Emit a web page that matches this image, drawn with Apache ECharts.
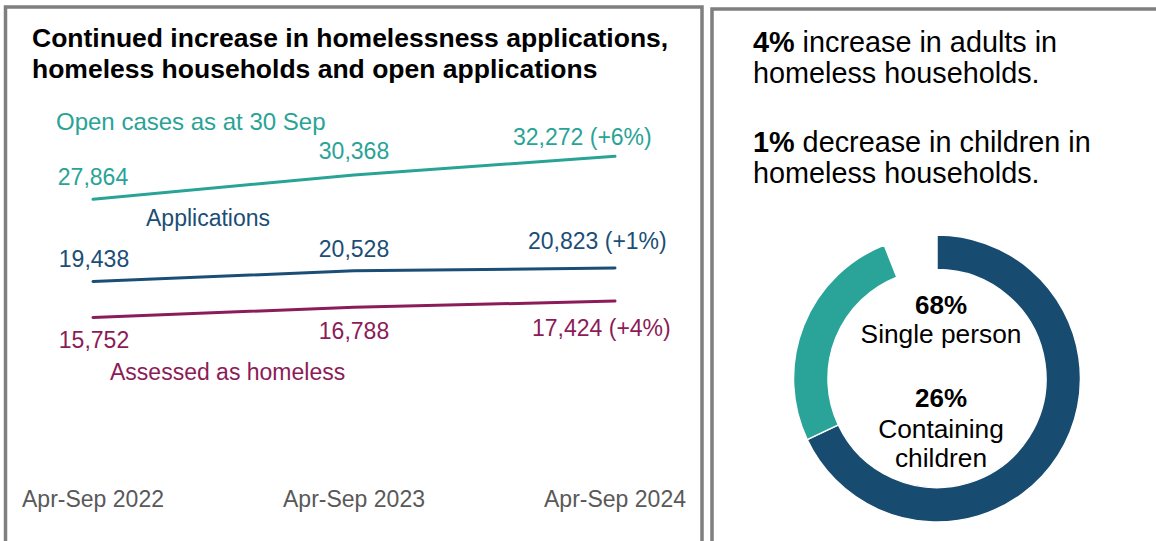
<!DOCTYPE html>
<html>
<head>
<meta charset="utf-8">
<style>
  html, body { margin: 0; padding: 0; background: #ffffff; }
  #chart { width: 1156px; height: 541px; }
</style>
<script src="https://cdn.jsdelivr.net/npm/echarts@6/dist/echarts.min.js"></script>
</head>
<body>
<div id="chart"></div>
<script>
// Reporting periods on the x axis
const periods = ['Apr-Sep 2022', 'Apr-Sep 2023', 'Apr-Sep 2024'];

// Series names and values per period
const seriesNames = ['Open cases as at 30 Sep', 'Applications', 'Assessed as homeless'];
const openCases = [27864, 30368, 32272];
const applications = [19438, 20528, 20823];
const assessedHomeless = [15752, 16788, 17424];
// Year-on-year change shown beside the latest value
const latestChange = ['+6%', '+1%', '+4%'];

// Household composition of homeless households (percent)
const householdTypes = ['Single person', 'Containing children', 'Other'];
const householdShares = [68, 26, 6];

// Headline changes in people within homeless households
const adultsChange = '4%';
const childrenChange = '1%';

const FONT = '"Liberation Sans", Arial, Helvetica, sans-serif';
const TEAL = '#29a396';
const NAVY = '#1b4e76';
const PLUM = '#8c1b59';
const DONUT_NAVY = '#174b70';
const DONUT_TEAL = '#2aa498';

function fmt(n) {
  return String(n).replace(/\B(?=(\d{3})+(?!\d))/g, ',');
}

// Offsets of each value label from its point: [dx, dy, align]
const labelPlacement = {
  open: [[0, -22, 'center'], [0, -23.5, 'center'], [-102, -19, 'left']],
  apps: [[1, -22, 'center'], [0, -22, 'center'], [-87, -26.5, 'left']],
  assessed: [[1, 23, 'center'], [0, 24, 'center'], [-83, 27, 'left']]
};

function lineSeries(name, values, color, placement, changeIdx) {
  return {
    name: name,
    type: 'line',
    symbol: 'circle',
    symbolSize: 0,
    showSymbol: true,
    lineStyle: { color: color, width: 3, cap: 'round' },
    itemStyle: { color: color },
    emphasis: { disabled: true },
    silent: true,
    data: values.map(function (v, i) {
      const p = placement[i];
      const last = i === values.length - 1;
      return {
        value: v,
        label: {
          show: true,
          position: [p[0], p[1]],
          align: p[2],
          verticalAlign: 'middle',
          color: color,
          fontSize: 23,
          fontFamily: FONT,
          formatter: last ? fmt(v) + ' (' + latestChange[changeIdx] + ')' : fmt(v)
        }
      };
    })
  };
}

const chart = echarts.init(document.getElementById('chart'), null, { renderer: 'svg' });

const headlineRich = { b: { fontWeight: 'bold', fontSize: 28.8, fontFamily: FONT, fill: '#000000', lineHeight: 31 } };

chart.setOption({
  animation: false,
  backgroundColor: '#ffffff',
  grid: { left: 93, right: 541, top: 81, bottom: 70, containLabel: false },
  xAxis: {
    type: 'category',
    data: periods,
    boundaryGap: false,
    axisLine: { show: false },
    axisTick: { show: false },
    splitLine: { show: false },
    axisLabel: {
      color: '#595959',
      fontSize: 23,
      fontFamily: FONT,
      margin: 16,
      interval: 0
    }
  },
  yAxis: {
    type: 'value',
    min: 0,
    max: 40000,
    show: false,
    splitLine: { show: false }
  },
  series: [
    lineSeries(seriesNames[0], openCases, TEAL, labelPlacement.open, 0),
    lineSeries(seriesNames[1], applications, NAVY, labelPlacement.apps, 1),
    lineSeries(seriesNames[2], assessedHomeless, PLUM, labelPlacement.assessed, 2),
    {
      name: 'Household type',
      type: 'pie',
      center: [937, 378.5],
      radius: [109, 143.5],
      startAngle: 90,
      clockwise: true,
      silent: true,
      label: { show: false },
      labelLine: { show: false },
      emphasis: { disabled: true },
      data: householdShares.map(function (v, i) {
        const colors = [DONUT_NAVY, DONUT_TEAL, 'rgba(0,0,0,0)'];
        return {
          name: householdTypes[i],
          value: v,
          itemStyle: {
            color: colors[i],
            borderColor: i === 2 ? 'rgba(0,0,0,0)' : '#ffffff',
            borderWidth: i === 2 ? 0 : 1.5
          }
        };
      })
    }
  ],
  graphic: [
    // panel frames
    {
      type: 'rect', silent: true,
      shape: { x: 5.5, y: 7, width: 696.5, height: 620 },
      style: { fill: 'none', stroke: '#7f7f7f', lineWidth: 3.5 }
    },
    {
      type: 'rect', silent: true,
      shape: { x: 712, y: 9, width: 520, height: 620 },
      style: { fill: 'none', stroke: '#7f7f7f', lineWidth: 3.5 }
    },
    // chart heading
    {
      type: 'text', silent: true, x: 32, y: 22.5,
      style: {
        text: 'Continued increase in homelessness applications,\nhomeless households and open applications',
        font: 'bold 26.5px ' + FONT,
        fill: '#000000',
        lineHeight: 31,
        align: 'left', verticalAlign: 'top',
        textAlign: 'left', textVerticalAlign: 'top'
      }
    },
    // series names
    {
      type: 'text', silent: true, x: 56, y: 121,
      style: {
        text: seriesNames[0], font: '24px ' + FONT, fill: TEAL,
        align: 'left', verticalAlign: 'middle', textAlign: 'left', textVerticalAlign: 'middle'
      }
    },
    {
      type: 'text', silent: true, x: 146, y: 218,
      style: {
        text: seriesNames[1], font: '23px ' + FONT, fill: NAVY,
        align: 'left', verticalAlign: 'middle', textAlign: 'left', textVerticalAlign: 'middle'
      }
    },
    {
      type: 'text', silent: true, x: 110, y: 372,
      style: {
        text: seriesNames[2], font: '23px ' + FONT, fill: PLUM,
        align: 'left', verticalAlign: 'middle', textAlign: 'left', textVerticalAlign: 'middle'
      }
    },
    // headline statements
    {
      type: 'text', silent: true, x: 753, y: 26.5,
      style: {
        text: '{b|' + adultsChange + '} increase in adults in\nhomeless households.',
        font: '28.8px ' + FONT, fill: '#000000', lineHeight: 31,
        align: 'left', verticalAlign: 'top', textAlign: 'left', textVerticalAlign: 'top',
        rich: headlineRich
      }
    },
    {
      type: 'text', silent: true, x: 753, y: 126.5,
      style: {
        text: '{b|' + childrenChange + '} decrease in children in\nhomeless households.',
        font: '28.8px ' + FONT, fill: '#000000', lineHeight: 31,
        align: 'left', verticalAlign: 'top', textAlign: 'left', textVerticalAlign: 'top',
        rich: headlineRich
      }
    },
    // donut centre labels
    {
      type: 'text', silent: true, x: 941, y: 305,
      style: {
        text: householdShares[0] + '%', font: 'bold 26px ' + FONT, fill: '#000000',
        align: 'center', verticalAlign: 'middle', textAlign: 'center', textVerticalAlign: 'middle'
      }
    },
    {
      type: 'text', silent: true, x: 941, y: 334,
      style: {
        text: householdTypes[0], font: '26.3px ' + FONT, fill: '#000000',
        align: 'center', verticalAlign: 'middle', textAlign: 'center', textVerticalAlign: 'middle'
      }
    },
    {
      type: 'text', silent: true, x: 941, y: 398,
      style: {
        text: householdShares[1] + '%', font: 'bold 26px ' + FONT, fill: '#000000',
        align: 'center', verticalAlign: 'middle', textAlign: 'center', textVerticalAlign: 'middle'
      }
    },
    {
      type: 'text', silent: true, x: 941, y: 414.5,
      style: {
        text: 'Containing\nchildren', font: '26.3px ' + FONT, fill: '#000000', lineHeight: 29,
        align: 'center', verticalAlign: 'top', textAlign: 'center', textVerticalAlign: 'top'
      }
    }
  ]
});
</script>
</body>
</html>
